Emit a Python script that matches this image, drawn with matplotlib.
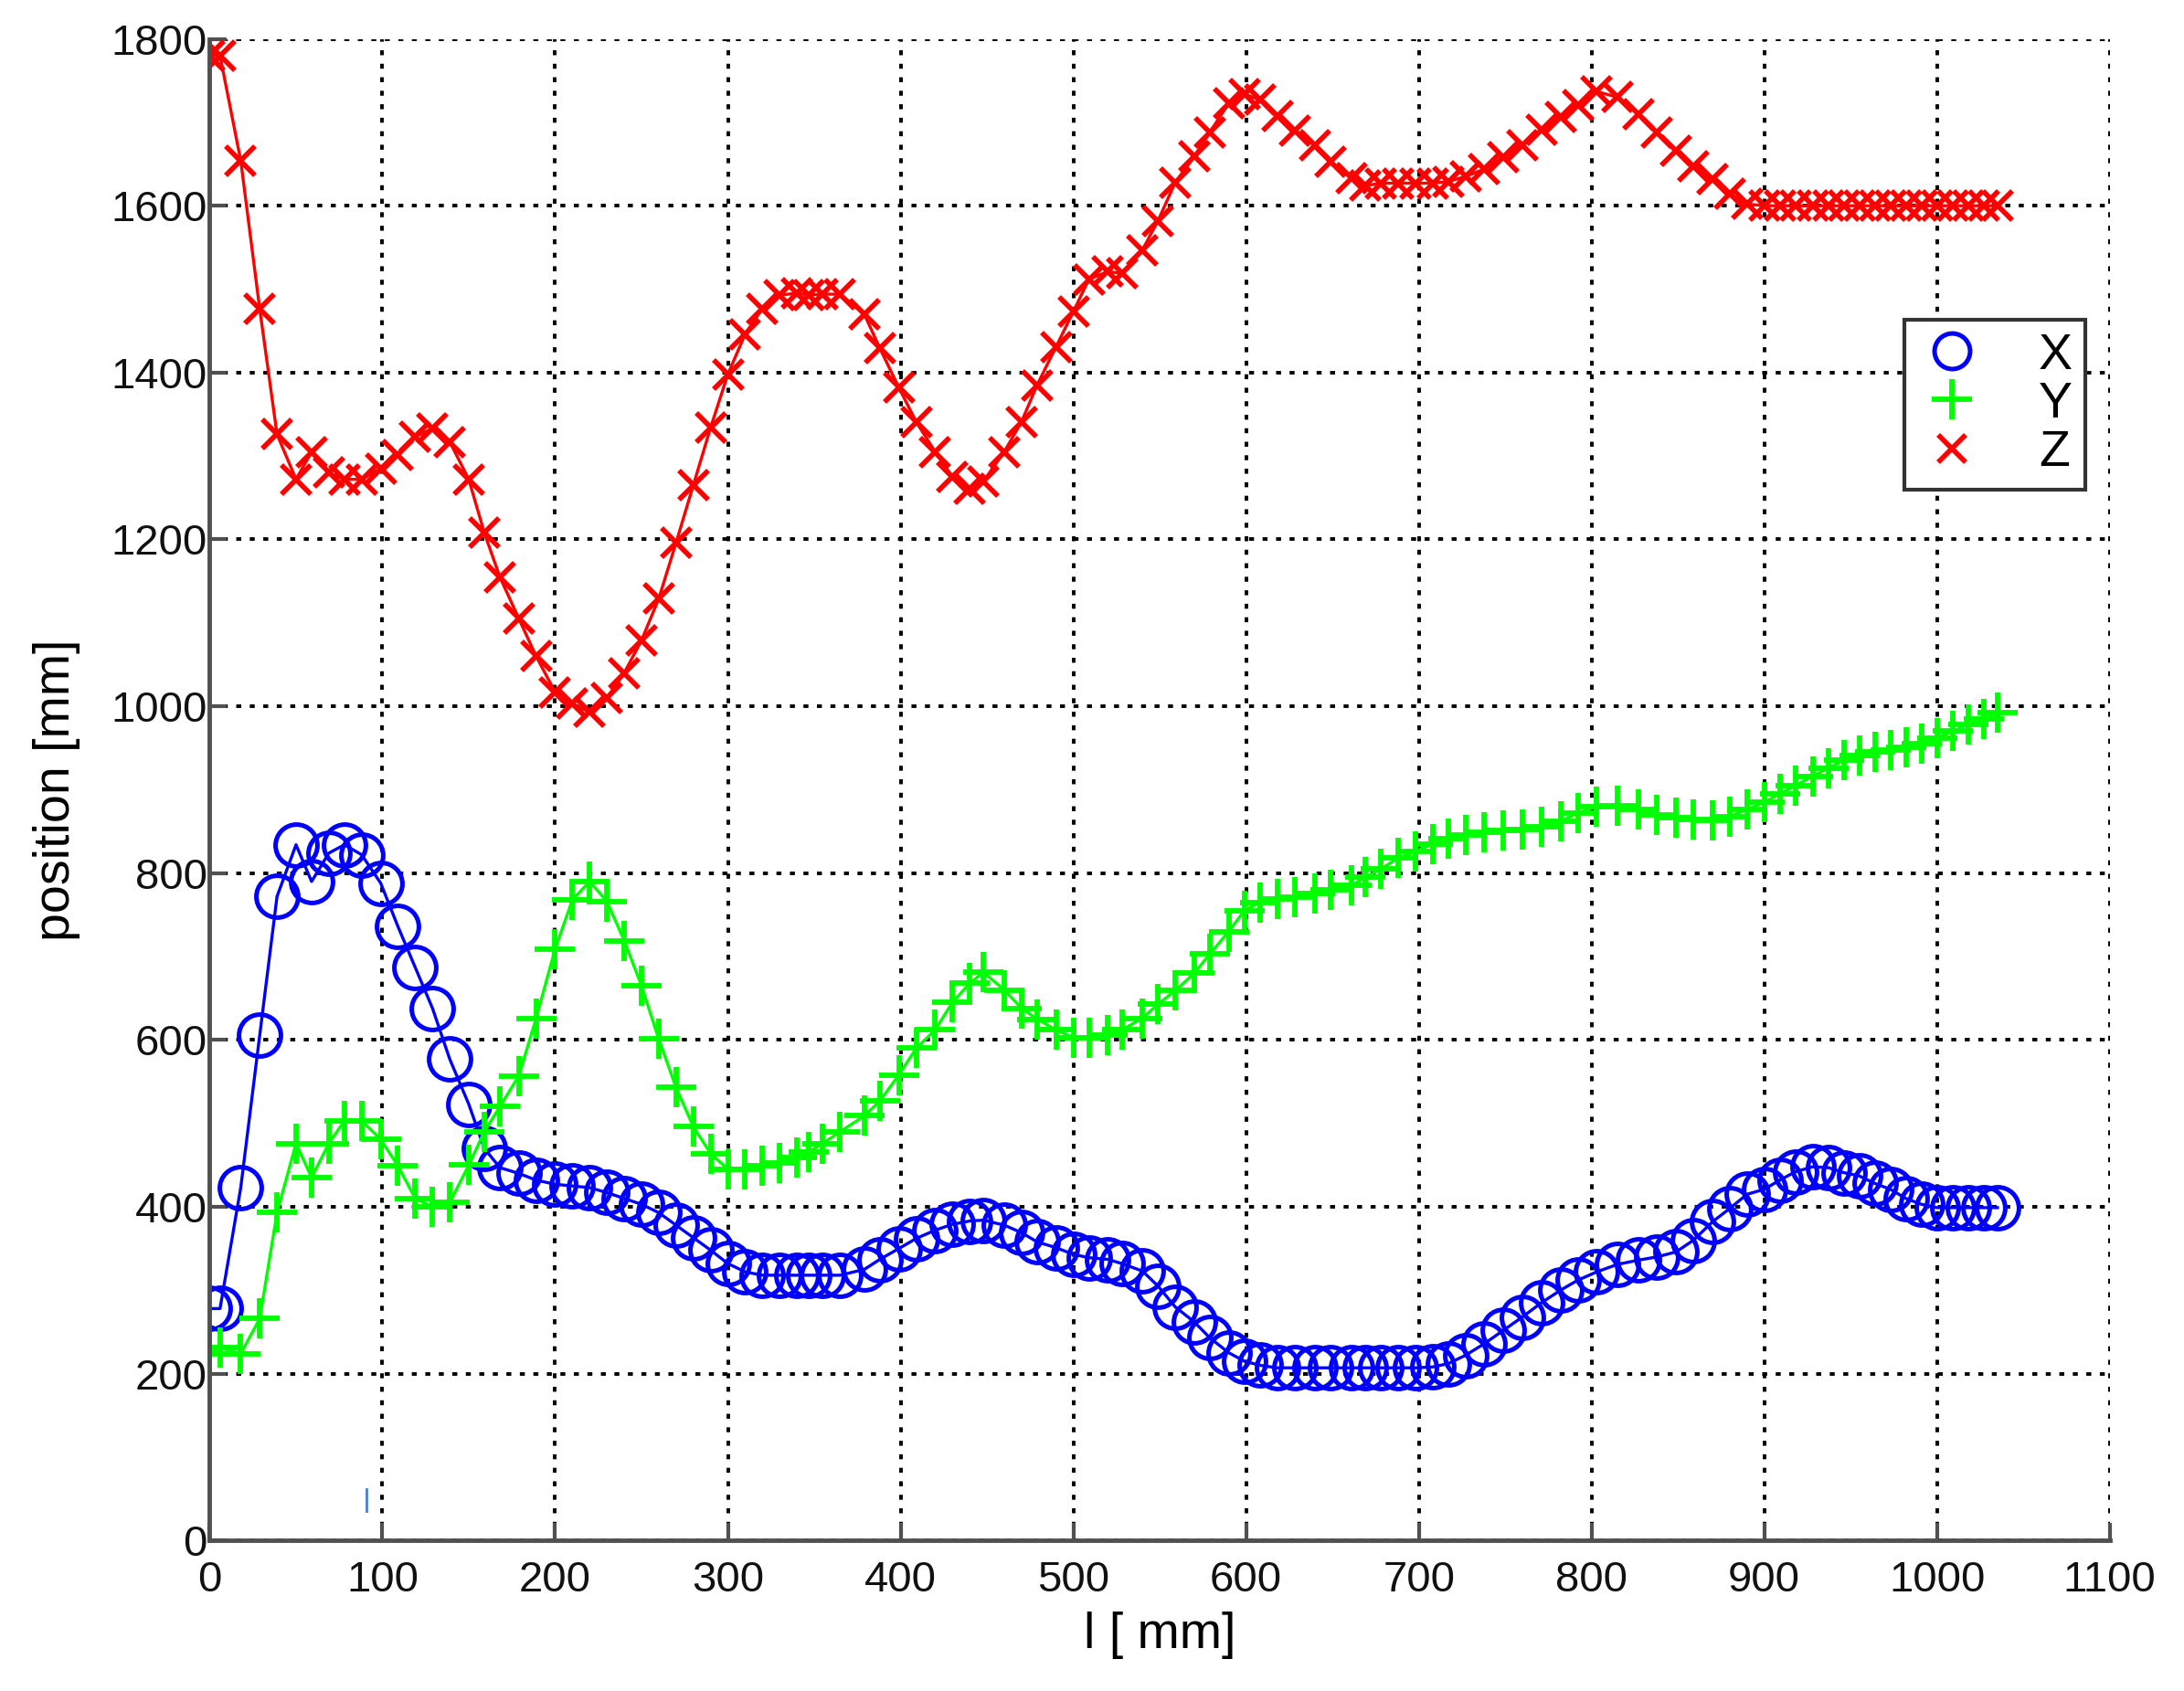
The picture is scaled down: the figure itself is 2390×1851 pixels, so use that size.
import matplotlib
matplotlib.use("Agg")
import matplotlib.pyplot as plt
from matplotlib.lines import Line2D

plt.rcParams['font.family'] = ['Liberation Sans', 'DejaVu Sans']

# path length l [mm] (shared by all three curves)
l_mm = [0, 6, 18, 29, 39, 50, 59, 69, 78, 88,
        99, 109, 119, 129, 139, 150, 159, 168, 179, 189,
        200, 210, 220, 230, 240, 250, 260, 270, 280, 290,
        300, 310, 320, 330, 340, 347, 355, 365, 379, 388,
        399, 409, 420, 430, 440, 448, 460, 470, 479, 490,
        500, 509, 520, 528, 540, 549, 559, 570, 579, 590,
        599, 608, 618, 628, 640, 649, 661, 669, 678, 688,
        698, 708, 717, 727, 738, 749, 760, 771, 782, 792,
        803, 815, 827, 838, 849, 859, 870, 880, 890, 900,
        909, 918, 928, 937, 946, 955, 964, 973, 982, 991,
        1000, 1009, 1018, 1027, 1035]

pos_x = [278, 278, 423, 606, 772, 834, 790, 824, 834, 822,
         788, 736, 687, 638, 577, 523, 470, 447, 440, 432,
         427, 425, 423, 417, 410, 403, 393, 378, 363, 348,
         332, 322, 318, 318, 318, 318, 318, 318, 325, 337,
         350, 362, 372, 379, 383, 384, 378, 369, 358, 351,
         343, 339, 337, 332, 323, 305, 280, 262, 243, 225,
         215, 210, 207, 207, 207, 207, 207, 207, 207, 207,
         207, 208, 212, 222, 236, 252, 268, 285, 300, 312,
         322, 331, 336, 340, 346, 360, 382, 398, 415, 421,
         432, 442, 448, 447, 441, 437, 428, 421, 410, 403,
         399, 399, 399, 399, 399]

pos_y = [224, 231, 224, 266, 393, 476, 435, 476, 503, 503,
         481, 449, 410, 400, 405, 450, 490, 520, 557, 626,
         709, 768, 790, 766, 719, 665, 601, 543, 496, 464,
         445, 445, 449, 453, 459, 466, 476, 490, 509, 527,
         558, 590, 612, 645, 668, 681, 660, 638, 625, 612,
         603, 603, 606, 612, 626, 643, 659, 680, 703, 730,
         755, 765, 769, 771, 776, 780, 785, 795, 805, 818,
         826, 835, 841, 846, 849, 851, 852, 856, 862, 872,
         880, 881, 876, 870, 866, 864, 863, 868, 876, 885,
         895, 905, 916, 926, 935, 941, 945, 948, 951, 955,
         962, 970, 978, 985, 992]

pos_z = [1780, 1780, 1654, 1476, 1326, 1272, 1305, 1280, 1272, 1272,
         1285, 1301, 1323, 1333, 1317, 1272, 1208, 1155, 1105, 1060,
         1017, 1003, 993, 1010, 1040, 1079, 1129, 1196, 1265, 1334,
         1398, 1446, 1477, 1493, 1495, 1493, 1494, 1494, 1470, 1429,
         1382, 1341, 1305, 1275, 1261, 1270, 1305, 1341, 1385, 1431,
         1473, 1512, 1521, 1519, 1547, 1582, 1628, 1659, 1688, 1723,
         1734, 1727, 1708, 1690, 1672, 1653, 1633, 1624, 1627, 1627,
         1627, 1627, 1629, 1635, 1644, 1658, 1673, 1691, 1706, 1721,
         1737, 1730, 1710, 1688, 1666, 1647, 1632, 1614, 1602, 1600,
         1600, 1600, 1600, 1600, 1600, 1600, 1600, 1600, 1600, 1600,
         1600, 1600, 1600, 1600, 1600]

# stray blue tick mark visible near the bottom of the plot
stray_x = [91, 91]
stray_y = [35, 62]

x_ticks = [0, 100, 200, 300, 400, 500, 600, 700, 800, 900, 1000, 1100]
y_ticks = [0, 200, 400, 600, 800, 1000, 1200, 1400, 1600, 1800]

fig = plt.figure(figsize=(23.9, 18.51), dpi=100)
ax = fig.add_axes([0.096, 0.089, 0.870, 0.888])

ax.plot(l_mm, pos_x, '-o', color='#0000ff', lw=2.4, ms=33, mew=3.6, mfc='none')
ax.plot(l_mm, pos_y, '-+', color='#00ff00', lw=2.4, ms=32, mew=4.2)
ax.plot(l_mm, pos_z, '-x', color='#ff0000', lw=2.4, ms=23, mew=4.0)
ax.plot(stray_x, stray_y, '-', color='#4a7fd8', lw=2)

ax.set_xlim(0, 1100)
ax.set_ylim(0, 1800)
ax.set_xticks(x_ticks)
ax.set_yticks(y_ticks)
ax.grid(True, linestyle=(0, (1.4, 2.4)), color='black', lw=2.8)
ax.set_axisbelow(True)

for s in ['top', 'right']:
    ax.spines[s].set_visible(False)
for s in ['left', 'bottom']:
    ax.spines[s].set_color('#505050')
    ax.spines[s].set_linewidth(3.5)

ax.tick_params(direction='in', length=14, width=3, color='#505050',
               labelsize=34, labelcolor='#111111')
ax.tick_params(axis='y', pad=2)
ax.tick_params(axis='x', pad=16)

ax.set_xlabel('l [ mm]', fontsize=40, labelpad=8)
ax.set_ylabel('position [mm]', fontsize=40, labelpad=24)

handles = [Line2D([], [], marker='o', ls='none', color='#0000ff', ms=28, mew=3.6, mfc='none'),
           Line2D([], [], marker='+', ls='none', color='#00ff00', ms=32, mew=4.2),
           Line2D([], [], marker='x', ls='none', color='#ff0000', ms=21, mew=4.0)]
leg = ax.legend(handles, ['X', 'Y', 'Z'], loc='upper right', bbox_to_anchor=(0.987, 0.813),
                borderaxespad=0, fontsize=40, handlelength=1.4, handletextpad=1.0,
                labelspacing=0.02, borderpad=0.25, fancybox=False, framealpha=1,
                edgecolor='#333333')
leg.get_frame().set_linewidth(3)

fig.savefig('out.png', dpi=100)
